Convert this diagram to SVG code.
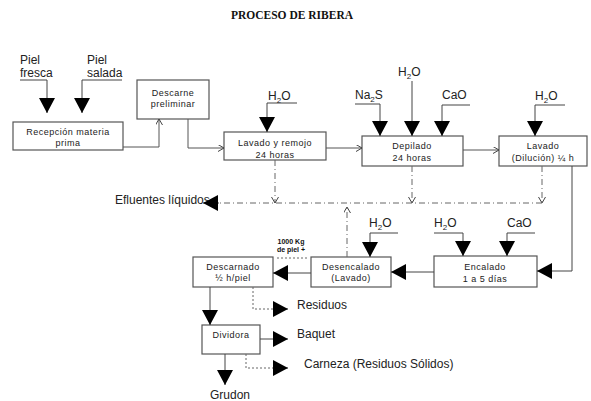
<svg xmlns="http://www.w3.org/2000/svg" width="591" height="401" viewBox="0 0 591 401">
<defs>
<marker id="fa" markerUnits="userSpaceOnUse" markerWidth="17" markerHeight="17" refX="15" refY="8" orient="auto"><path d="M0,0 L15,8 L0,16 z" fill="#000"/></marker>
<marker id="oa" markerUnits="userSpaceOnUse" markerWidth="8" markerHeight="8" refX="6" refY="3.5" orient="auto"><path d="M0,0 L6,3.5 L0,7" fill="none" stroke="#444" stroke-width="1"/></marker>
<style>
.box{fill:#fff;stroke:#555;stroke-width:1.2}
.bt{font-family:"Liberation Sans",Arial,sans-serif;font-size:9px;fill:#222;text-anchor:middle;letter-spacing:0.5px}
.lt{font-family:"Liberation Sans",Arial,sans-serif;font-size:12px;fill:#222}
.ln{fill:none;stroke:#444;stroke-width:1}
.fl{fill:none;stroke:#444;stroke-width:1;marker-end:url(#fa)}
.ol{fill:none;stroke:#555;stroke-width:1;marker-end:url(#oa)}
.dd{fill:none;stroke:#666;stroke-width:1;stroke-dasharray:6,3,1,3}
.dt{fill:none;stroke:#666;stroke-width:1;stroke-dasharray:2,2}
</style>
</defs>
<rect width="591" height="401" fill="#fff"/>
<text x="292" y="19" font-family="'Liberation Serif',serif" font-weight="bold" font-size="11.5" text-anchor="middle" fill="#111">PROCESO DE RIBERA</text>

<g id="recepcion"><rect class="box" x="13" y="122" width="110" height="28"/><text class="bt" x="68" y="135">Recepción materia</text><text class="bt" x="68" y="146">prima</text></g>
<g id="descarne"><rect class="box" x="137" y="80" width="72" height="39"/><text class="bt" x="173" y="96">Descarne</text><text class="bt" x="173" y="107">preliminar</text></g>
<g id="lavado-remojo"><rect class="box" x="224" y="132" width="102" height="28"/><text class="bt" x="275" y="146">Lavado y remojo</text><text class="bt" x="275" y="158">24 horas</text></g>
<g id="depilado"><rect class="box" x="362" y="136" width="101" height="30"/><text class="bt" x="412" y="149">Depilado</text><text class="bt" x="412" y="161">24 horas</text></g>
<g id="lavado-dilucion"><rect class="box" x="499" y="136" width="88" height="30"/><text class="bt" x="543" y="149">Lavado</text><text class="bt" x="543" y="161">(Dilución) ¼ h</text></g>
<g id="encalado"><rect class="box" x="434" y="256" width="103" height="31"/><text class="bt" x="485" y="270">Encalado</text><text class="bt" x="485" y="282">1 a 5 días</text></g>
<g id="desencalado"><rect class="box" x="311" y="257" width="80" height="30"/><text class="bt" x="351" y="270">Desencalado</text><text class="bt" x="351" y="281">(Lavado)</text></g>
<g id="descarnado"><rect class="box" x="193" y="257" width="80" height="30"/><text class="bt" x="233" y="270">Descarnado</text><text class="bt" x="233" y="281">½ h/piel</text></g>
<g id="dividora"><rect class="box" x="202" y="325" width="58" height="29"/><text class="bt" x="231" y="338">Dividora</text></g>

<g id="labels">
<text class="lt" x="20" y="64">Piel</text><text class="lt" x="20" y="77">fresca</text>
<text class="lt" x="87" y="64">Piel</text><text class="lt" x="87" y="77">salada</text>
<text class="lt" x="268" y="100">H<tspan font-size="8" dy="3">2</tspan><tspan dy="-3">O</tspan></text>
<text class="lt" x="355" y="99">Na<tspan font-size="8" dy="3">2</tspan><tspan dy="-3">S</tspan></text>
<text class="lt" x="398" y="76">H<tspan font-size="8" dy="3">2</tspan><tspan dy="-3">O</tspan></text>
<text class="lt" x="442" y="99">CaO</text>
<text class="lt" x="535" y="100">H<tspan font-size="8" dy="3">2</tspan><tspan dy="-3">O</tspan></text>
<text class="lt" x="369" y="227">H<tspan font-size="8" dy="3">2</tspan><tspan dy="-3">O</tspan></text>
<text class="lt" x="434" y="227">H<tspan font-size="8" dy="3">2</tspan><tspan dy="-3">O</tspan></text>
<text class="lt" x="507" y="227">CaO</text>
<text class="lt" x="115" y="204">Efluentes líquidos</text>
<text x="291" y="244" font-family="'Liberation Sans',Arial,sans-serif" font-size="7" font-weight="bold" text-anchor="middle" fill="#111">1000 Kg</text>
<text x="291" y="252" font-family="'Liberation Sans',Arial,sans-serif" font-size="7" font-weight="bold" text-anchor="middle" fill="#111">de piel +</text>
<text class="lt" x="297" y="309">Residuos</text>
<text class="lt" x="297" y="338">Baquet</text>
<text class="lt" x="304" y="368">Carneza (Residuos Sólidos)</text>
<text class="lt" x="210" y="399">Grudon</text>
</g>

<g id="connectors">
<path class="fl" d="M20,80 H47 V113"/>
<path class="fl" d="M122,80 H82 V113"/>
<path class="ol" d="M123,147 H159 V119"/>
<path class="ol" d="M188,119 V148 H224"/>
<path class="fl" d="M297,103 H267 V132"/>
<path class="ol" d="M326,148 H362"/>
<path class="fl" d="M355,104 H380 V136"/>
<path class="fl" d="M412,81 V136"/>
<path class="fl" d="M470,105 H442 V136"/>
<path class="ol" d="M463,150 H499"/>
<path class="fl" d="M565,105 H535 V136"/>
<path class="fl" d="M572,166 V271 H537"/>
<path class="fl" d="M398,233 H370 V257"/>
<path class="fl" d="M434,233 H463 V256"/>
<path class="fl" d="M535,233 H507 V256"/>
<path class="fl" d="M434,272 H391"/>
<path class="fl" d="M311,273 H273"/>
<path class="fl" d="M210,287 V325"/>
<path class="dt" d="M253,287 V309 H274"/><path class="fl" d="M273,309 H288"/>
<path class="fl" d="M260,339 H288"/>
<path class="fl" d="M225,354 V385"/>
<path class="dt" d="M246,354 V368 H274"/><path class="fl" d="M273,368 H288"/>
<path class="dd" d="M275,160 V203" marker-end="url(#oa)"/>
<path class="dd" d="M412,166 V203" marker-end="url(#oa)"/>
<path class="dd" d="M542,166 V203" marker-end="url(#oa)"/>
<path class="dd" d="M542,203 H218"/><path class="fl" d="M219,203 H203"/>
<path class="dd" d="M347,257 V207" marker-end="url(#oa)"/>
<path class="dt" d="M277,258 H308"/>
</g>
</svg>
